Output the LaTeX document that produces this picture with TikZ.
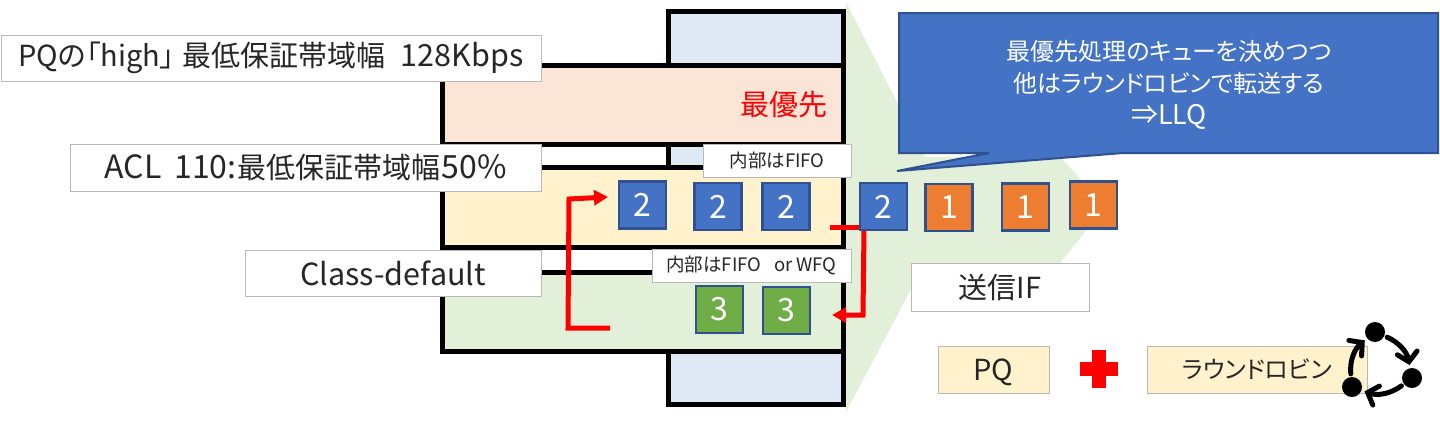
\documentclass[tikz,border=0pt]{standalone}
\usepackage{fontspec}
\setmainfont[RawFeature={+palt}]{Noto Sans CJK JP}
\usetikzlibrary{arrows.meta,positioning}
\definecolor{zoneblue}{HTML}{DEE9F5}
\definecolor{zonepeach}{HTML}{FBE5D6}
\definecolor{zoneyellow}{HTML}{FFF2CC}
\definecolor{zonegreen}{HTML}{E2F0D9}
\definecolor{pktblue}{HTML}{4472C4}
\definecolor{pktorange}{HTML}{ED7D31}
\definecolor{pktgreen}{HTML}{70AD47}
\definecolor{pktedge}{HTML}{2F528F}
\definecolor{lbledge}{HTML}{B8B8B8}
\newcommand{\lat}[1]{{\fontsize{30.5}{32}\selectfont #1}}
\newcommand{\latbig}[1]{{\fontsize{32}{34}\selectfont #1}}
\tikzset{
  zone/.style={draw=black, line width=5pt},
  lbl/.style={rectangle, draw=lbledge, line width=1pt, fill=white, inner sep=0pt, text=black!85, font=\fontsize{29}{32}\selectfont},
  note/.style={lbl, font=\fontsize{18.5}{20}\selectfont},
  tag/.style={lbl, fill=zoneyellow, draw=lbledge, minimum height=47pt},
  pkt/.style={rectangle, draw=pktedge, line width=2.5pt, minimum size=47pt, inner sep=0pt, text=white, font=\fontsize{32}{34}\selectfont},
  two/.style={pkt, fill=pktblue},
  one/.style={pkt, fill=pktorange},
  three/.style={pkt, fill=pktgreen},
  redarr/.style={draw=red, line width=5pt, -{Triangle[length=14pt,width=15pt]}},
  redline/.style={draw=red, line width=5pt},
  dot/.style={circle, fill=black, minimum size=20pt, inner sep=0pt},
  cyc/.style={line width=5pt, line cap=round, shorten >=3pt, shorten <=3pt, -{Straight Barb[length=9pt,width=20pt,line cap=round]}}
}

\begin{document}
\begin{tikzpicture}[x=1pt,y=-1pt]
\useasboundingbox (0,0) rectangle (1440,424);

% green funnel behind the queues
\fill[zonegreen] (846,2) -- (925,157) -- (1060,157) -- (1106,206) -- (1060,263) -- (925,263) -- (846,412) -- cycle;

% interface and classes
\draw[zone, fill=zoneblue] (668,11.5) rectangle (843,404);
\draw[zone, fill=zonepeach] (442,65) rectangle (843,144);
\draw[zone, fill=zoneyellow] (442,167) rectangle (843,247);
\draw[zone, fill=zonegreen] (442,272) rectangle (843,351);
\node[text=red, font=\fontsize{29}{32}\selectfont] (prio) at (784,105) {最優先};

\node[lbl, minimum width=540pt, minimum height=46pt] (high) at (271,58) {PQの「high」\hspace{8pt}最低保証帯域幅\hspace{15pt}\lat{128Kbps}};
\node[lbl, minimum width=471pt, minimum height=47pt] (acl) at (305.5,167.5) {\latbig{ACL\hspace{13pt}110:}\hspace{1pt}最低保証帯域幅\hspace{1pt}\latbig{50\%}};
\node[lbl, minimum width=296pt, minimum height=46pt] (cdef) at (393,273) {\lat{Class-default}};
\node[note, minimum width=148pt, minimum height=33pt] (fifo) at (777,160.5) {内部はFIFO};
\node[note, minimum width=199pt, minimum height=33pt] (wfq) at (751.5,265.5) {内部はFIFO\hspace{13pt}or WFQ};

% queues
\node[two] (q1) at (642.5,205) {2};
\node[two] (q2) at (718,206.5) {2};
\node[two] (q3) at (786,206.5) {2};
\node[three] (r1) at (719.5,309.5) {3};
\node[three] (r2) at (786.5,310.5) {3};
\coordinate (w1) at (610,328);
\coordinate (w2) at (568,328);
\coordinate (w3) at (569,199);
\coordinate (w4) at (608,197);
\coordinate (w5) at (830,227);
\coordinate (w6) at (864,229);
\coordinate (w7) at (863,315);
\coordinate (w8) at (832,315);
\draw[redarr] (w1) -- (w2) -- (w3) -- (w4);
\draw[redline] (w5) -- (860,227);
\draw[redarr] (w6) -- (w7) -- (w8);

\node[two] (s1) at (883.5,206.5) {2};
\node[one] (s2) at (949,207.5) {1};
\node[one] (s3) at (1025.5,207) {1};
\node[one] (s4) at (1093.5,205) {1};

% speech bubble
\draw[fill=pktblue, draw=pktedge, line width=2pt] (899,13) -- (1438,13) -- (1438,153) -- (1123,153) -- (897,171) -- (989,153) -- (899,153) -- cycle;
\node[align=center, text=white, font=\fontsize{24}{32}\selectfont] (bubble) at (1169,85) {最優先処理のキューを決めつつ\\他はラウンドロビンで転送する\\{\fontsize{27}{32}\selectfont ⇒LLQ}};

% legend
\node[lbl, minimum width=178pt, minimum height=48pt] (txif) at (1000,287) {送信IF};
\node[tag, minimum width=111pt, text height=26pt, text depth=4pt] (pq) at (993.5,369.5) {PQ};
\fill[red] (1092,350) rectangle (1106,388);
\fill[red] (1080,362) rectangle (1118,376);
\node[tag, minimum width=220pt, font=\fontsize{24}{30}\selectfont] (rr) at (1257,369.5) {ラウンドロビン};

\node[dot] (d1) at (1375,332) {};
\node[dot] (d2) at (1412,378) {};
\node[dot] (d3) at (1352,387) {};
\draw[cyc] (d1) to[bend left=28] (d2);
\draw[cyc] (d2) to[bend left=28] (d3);
\draw[cyc] (d3) to[bend left=28] (d1);
\end{tikzpicture}
\end{document}
